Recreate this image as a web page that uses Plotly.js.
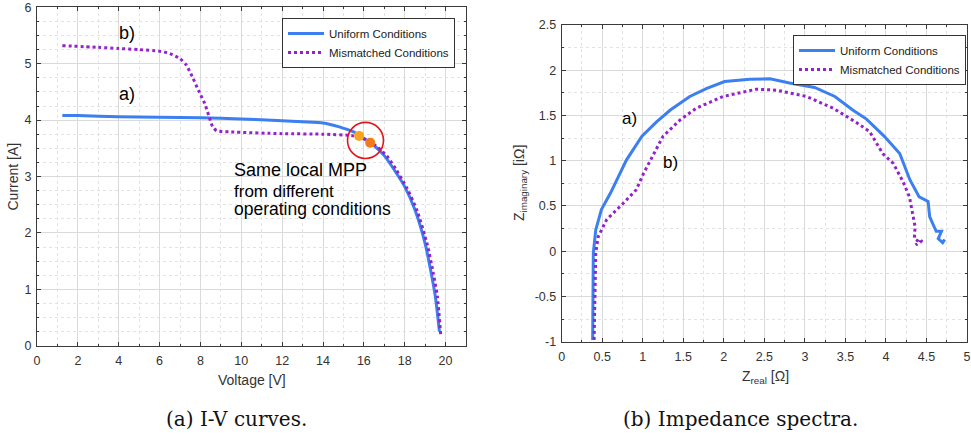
<!DOCTYPE html>
<html><head><meta charset="utf-8">
<script src="https://cdn.plot.ly/plotly-3.0.1.min.js"></script>
<style>html,body{margin:0;padding:0;background:#fff}#chart{width:971px;height:437px}</style>
</head><body><div id="chart"></div>
<script>
// ---- (a) I-V curves ----
const ivVoltUniform = [1.24, 2, 4, 6, 8, 10, 12, 13, 14, 14.8, 15.5, 16, 16.5, 17, 17.5, 18, 18.5, 19, 19.3, 19.5, 19.7];
const ivCurrUniform = [4.08, 4.08, 4.06, 4.05, 4.04, 4.02, 3.99, 3.97, 3.95, 3.88, 3.79, 3.68, 3.55, 3.37, 3.11, 2.82, 2.41, 1.81, 1.28, 0.87, 0.25];
const ivVoltMismatch = [1.24, 3, 4, 5, 6, 6.5, 7, 7.3, 7.6, 7.9, 8.2, 8.4, 8.6, 8.8, 9.5, 12, 14, 15.5, 16.3, 16.8, 17.2, 17.6, 18.1, 18.6, 19.1, 19.4, 19.6, 19.77];
const ivCurrMismatch = [5.32, 5.29, 5.27, 5.25, 5.22, 5.18, 5.09, 4.98, 4.77, 4.53, 4.30, 4.09, 3.88, 3.81, 3.79, 3.76, 3.75, 3.72, 3.62, 3.48, 3.33, 3.11, 2.80, 2.40, 1.80, 1.28, 0.87, 0.15];
const mppVolt = [15.77, 16.31];
const mppCurr = [3.72, 3.60];
const mppCircleCenter = [16.08, 3.64];

// ---- (b) Impedance spectra ----
const zRealUniform = [0.382, 0.385, 0.39, 0.39, 0.42, 0.49, 0.60, 0.68, 0.80, 0.99, 1.17, 1.34, 1.58, 1.79, 2.01, 2.32, 2.57, 2.81, 3.12, 3.37, 3.59, 3.76, 3.98, 4.17, 4.295, 4.41, 4.52, 4.54, 4.62, 4.685, 4.645, 4.70, 4.725];
const zImagUniform = [-0.98, -0.6, -0.32, -0.02, 0.235, 0.46, 0.64, 0.79, 1.01, 1.27, 1.43, 1.56, 1.71, 1.80, 1.875, 1.90, 1.905, 1.86, 1.81, 1.71, 1.56, 1.46, 1.27, 1.08, 0.79, 0.60, 0.55, 0.38, 0.22, 0.22, 0.14, 0.095, 0.13];
const zRealMismatch = [0.40, 0.405, 0.41, 0.42, 0.45, 0.555, 0.76, 0.92, 1.01, 1.13, 1.25, 1.46, 1.66, 1.99, 2.40, 2.65, 3.02, 3.35, 3.64, 3.80, 3.96, 4.09, 4.21, 4.29, 4.33, 4.36, 4.35, 4.40, 4.37, 4.44, 4.46];
const zImagMismatch = [-0.98, -0.6, -0.32, -0.02, 0.16, 0.35, 0.53, 0.68, 0.86, 1.07, 1.27, 1.45, 1.58, 1.71, 1.79, 1.78, 1.71, 1.58, 1.42, 1.32, 1.08, 0.97, 0.77, 0.60, 0.42, 0.27, 0.14, 0.11, 0.07, 0.11, 0.09];

const ivXTicks = [0, 2, 4, 6, 8, 10, 12, 14, 16, 18, 20];
const ivYTicks = [0, 1, 2, 3, 4, 5, 6];
const zXTicks = [0, 0.5, 1, 1.5, 2, 2.5, 3, 3.5, 4, 4.5, 5];
const zXTickText = ['0', '0.5', '1', '1.5', '2', '2.5', '3', '3.5', '4', '4.5', '5'];
const zYTicks = [-1, -0.5, 0, 0.5, 1, 1.5, 2, 2.5];
const zYTickText = ['-1', '-0.5', '0', '0.5', '1', '1.5', '2', '2.5'];

const seriesNames = ['Uniform Conditions', 'Mismatched Conditions'];

const W = 971, H = 437;
const px = x => x / W;
const py = y => 1 - y / H;

const BLUE = '#3b7ff0', PURPLE = '#9422cc';
const SANS = 'Liberation Sans';

const traces = [
  {x: ivVoltUniform, y: ivCurrUniform, xaxis: 'x', yaxis: 'y', mode: 'lines', name: seriesNames[0], legend: 'legend',
   line: {color: BLUE, width: 3, shape: 'spline', smoothing: 0.6}},
  {x: ivVoltMismatch, y: ivCurrMismatch, xaxis: 'x', yaxis: 'y', mode: 'lines', name: seriesNames[1], legend: 'legend',
   line: {color: PURPLE, width: 3, dash: 'dot', shape: 'spline', smoothing: 0.6}},
  {x: mppVolt, y: mppCurr, xaxis: 'x', yaxis: 'y', mode: 'markers', showlegend: false,
   marker: {size: 10, color: ['#f8a41e', '#f27a1c']}},
  {x: zRealUniform, y: zImagUniform, xaxis: 'x2', yaxis: 'y2', mode: 'lines', name: seriesNames[0], legend: 'legend2',
   line: {color: BLUE, width: 3}},
  {x: zRealMismatch, y: zImagMismatch, xaxis: 'x2', yaxis: 'y2', mode: 'lines', name: seriesNames[1], legend: 'legend2',
   line: {color: PURPLE, width: 3, dash: 'dot'}}
];

function axis(extra, minorDtick) {
  return Object.assign({
    showline: true, linecolor: '#3a3a3a', linewidth: 1, mirror: 'ticks',
    ticks: 'inside', ticklen: 4, tickcolor: '#3a3a3a',
    showgrid: true, gridcolor: '#dadada', gridwidth: 1, zeroline: false,
    tickfont: {family: SANS, size: 12.5, color: '#333'},
    fixedrange: true,
    minor: {dtick: minorDtick, showgrid: true, gridcolor: '#e3e3e3', griddash: 'dot', ticks: 'inside', ticklen: 2, tickcolor: '#3a3a3a'}
  }, extra);
}

const legendBase = {
  bgcolor: '#fff', bordercolor: '#333', borderwidth: 1,
  font: {family: SANS, size: 11.5, color: '#222'},
  xanchor: 'left', yanchor: 'top', itemwidth: 36, tracegroupgap: 0
};

const ann = (x, y, text, size, extra) => Object.assign({x, y, text, showarrow: false, xanchor: 'center', yanchor: 'middle',
  font: {family: SANS, size, color: '#000'}}, extra || {});
const axTitleFont = {family: SANS, size: 14, color: '#333'};
const capFont = {family: 'DejaVu Serif', size: 20, color: '#111'};

const layout = {
  width: W, height: H,
  margin: {l: 0, r: 0, t: 0, b: 0},
  paper_bgcolor: '#fff', plot_bgcolor: '#fff',
  xaxis: axis({domain: [px(37), px(466)], range: [0, 21], tickvals: ivXTicks, anchor: 'y', ticklabelstandoff: 3}, 1),
  yaxis: axis({domain: [py(345.7), py(7.3)], range: [0, 6], tickvals: ivYTicks, anchor: 'x', ticklabelstandoff: 2}, 0.25),
  xaxis2: axis({domain: [px(561.7), px(967)], range: [0, 5], tickvals: zXTicks, ticktext: zXTickText, anchor: 'y2', ticklabelstandoff: 3}, 0.25),
  yaxis2: axis({domain: [py(341.7), py(25)], range: [-1, 2.5], tickvals: zYTicks, ticktext: zYTickText, anchor: 'x2', ticklabelstandoff: 2}, 0.25),
  legend: Object.assign({}, legendBase, {x: px(282), y: py(18)}),
  legend2: Object.assign({}, legendBase, {x: px(793), y: py(35)}),
  shapes: [
    {type: 'circle', xref: 'x', yref: 'y',
     x0: mppCircleCenter[0] - 0.88, x1: mppCircleCenter[0] + 0.88,
     y0: mppCircleCenter[1] - 0.32, y1: mppCircleCenter[1] + 0.32,
     line: {color: '#e8141c', width: 1.6}}
  ],
  annotations: [
    ann(4.41, 5.55, 'b)', 18, {xref: 'x', yref: 'y'}),
    ann(4.41, 4.47, 'a)', 18, {xref: 'x', yref: 'y'}),
    ann(9.56, 3.11, 'Same local MPP', 18, {xref: 'x', yref: 'y', xanchor: 'left'}),
    ann(9.56, 2.74, 'from different', 17, {xref: 'x', yref: 'y', xanchor: 'left'}),
    ann(9.56, 2.43, 'operating conditions', 17.5, {xref: 'x', yref: 'y', xanchor: 'left'}),
    ann(0.84, 1.47, 'a)', 17, {xref: 'x2', yref: 'y2'}),
    ann(1.34, 0.975, 'b)', 17, {xref: 'x2', yref: 'y2'}),
    ann(px(251.7), py(380), 'Voltage [V]', 14, {xref: 'paper', yref: 'paper', font: axTitleFont}),
    ann(px(12.5), py(177), 'Current [A]', 14, {xref: 'paper', yref: 'paper', textangle: -90, font: axTitleFont}),
    ann(px(765), py(377), 'Z<sub>real</sub> [Ω]', 14, {xref: 'paper', yref: 'paper', font: axTitleFont}),
    ann(px(520), py(183), 'Z<sub>imaginary</sub> [iΩ]', 14, {xref: 'paper', yref: 'paper', textangle: -90, font: axTitleFont}),
    ann(px(236), py(419), '(a) I-V curves.', 20, {xref: 'paper', yref: 'paper', font: capFont}),
    ann(px(740), py(419), '(b) Impedance spectra.', 20, {xref: 'paper', yref: 'paper', font: capFont})
  ]
};

Plotly.newPlot('chart', traces, layout, {displayModeBar: false, staticPlot: true});
</script>
</body></html>
